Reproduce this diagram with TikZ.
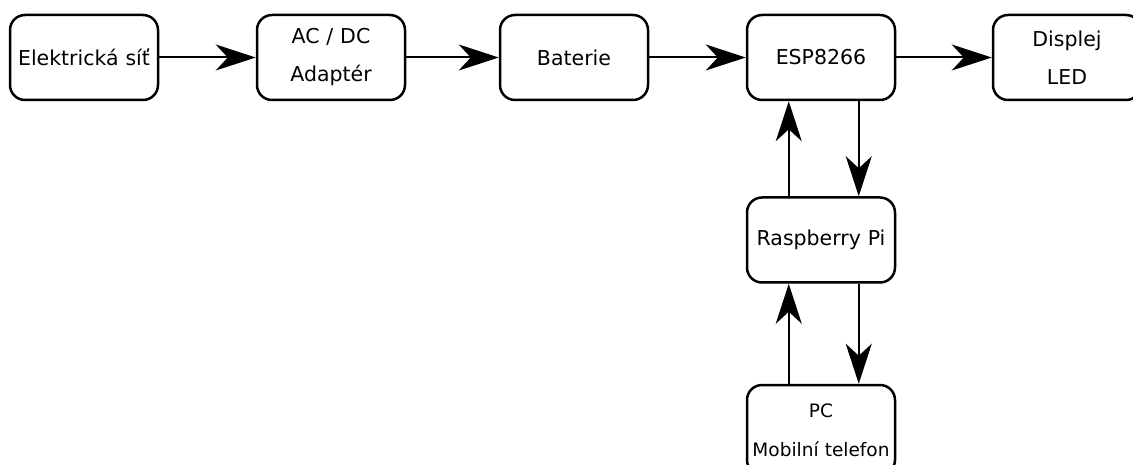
\documentclass[tikz,border=0pt]{standalone}
\usepackage{fontspec}
\setmainfont{DejaVu Sans}
\usetikzlibrary{arrows.meta}

\tikzset{
  blok/.style={draw, line width=2.5pt, rounded corners=15pt, minimum width=148pt,
    minimum height=85pt, inner sep=0pt, text width=140pt, align=center,
    font=\fontsize{20.5}{38}\selectfont},
  sipka/.style={line width=2pt, -{Stealth[length=40pt,width=26pt,inset=12pt]}}
}

\begin{document}
\begin{tikzpicture}[x=1pt,y=-1pt]
\clip (0,0) rectangle (1133,465);
% bloky
\node[blok] (sit) at (84,57.5) {Elektrická síť};
\node[blok] (adapter) at (331,57.5) {AC / DC\\Adaptér};
\node[blok] (baterie) at (574,57.5) {Baterie};
\node[blok] (esp) at (821,57.5) {ESP8266};
\node[blok] (displej) at (1067,57.5) {Displej\\LED};
\node[blok] (rpi) at (821,240) {Raspberry Pi};
\node[blok, minimum height=90pt, font=\fontsize{18.5}{39}\selectfont] (pc) at (821,430) {PC\\Mobilní telefon};
% sipky
\draw[sipka] (sit) -- (adapter);
\draw[sipka] (adapter) -- (baterie);
\draw[sipka] (baterie) -- (esp);
\draw[sipka] (esp) -- (displej);
\draw[sipka] ([xshift=43pt]rpi.north west) -- ([xshift=43pt]esp.south west);
\draw[sipka] ([xshift=113pt]esp.south west) -- ([xshift=113pt]rpi.north west);
\draw[sipka] ([xshift=43pt]pc.north west) -- ([xshift=43pt]rpi.south west);
\draw[sipka] ([xshift=113pt]rpi.south west) -- ([xshift=113pt]pc.north west);
\end{tikzpicture}
\end{document}
